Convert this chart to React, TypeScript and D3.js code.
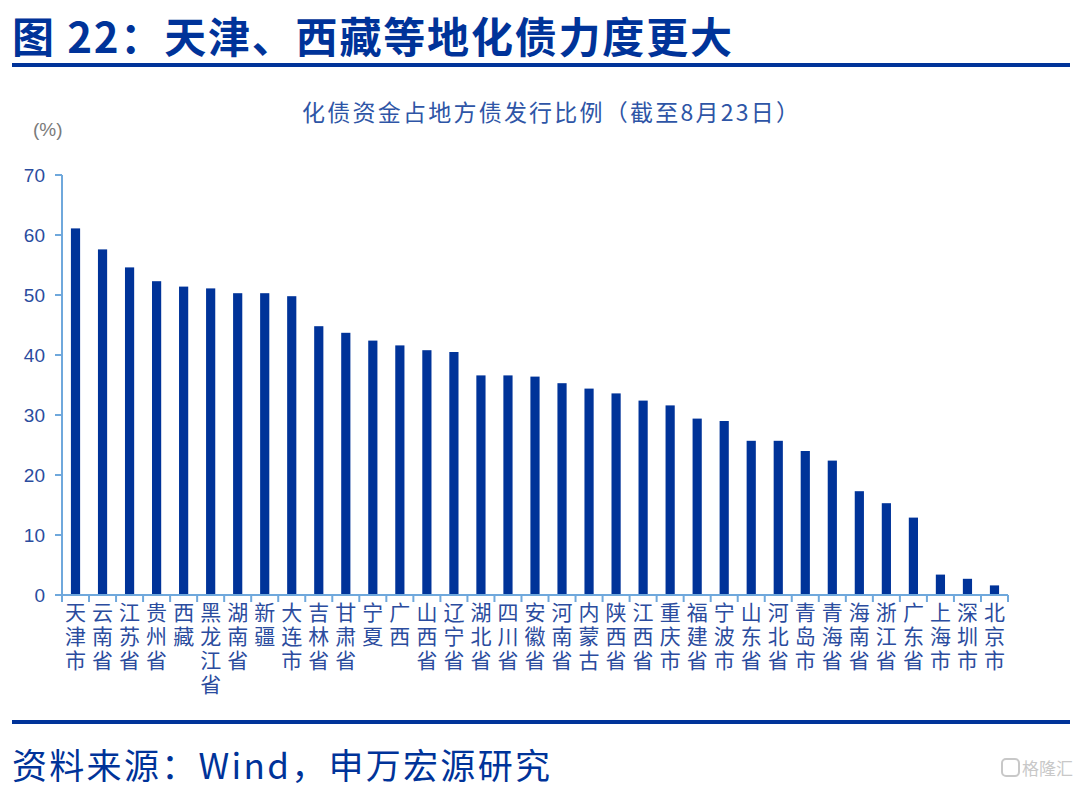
import React from "react";
import * as d3 from "d3";

const categories = [
  "天津市", "云南省", "江苏省", "贵州省", "西藏", "黑龙江省", "湖南省", "新疆", "大连市",
  "吉林省", "甘肃省", "宁夏", "广西", "山西省", "辽宁省", "湖北省", "四川省", "安徽省",
  "河南省", "内蒙古", "陕西省", "江西省", "重庆市", "福建省", "宁波市", "山东省", "河北省",
  "青岛市", "青海省", "海南省", "浙江省", "广东省", "上海市", "深圳市", "北京市",
];
const values = [
  61.1, 57.6, 54.6, 52.3, 51.4, 51.1, 50.3, 50.3, 49.8,
  44.8, 43.7, 42.4, 41.6, 40.8, 40.5, 36.6, 36.6, 36.4,
  35.3, 34.4, 33.6, 32.4, 31.6, 29.4, 29.0, 25.7, 25.7,
  24.0, 22.4, 17.3, 15.3, 12.9, 3.4, 2.7, 1.6,
];
const yTicks = [0, 10, 20, 30, 40, 50, 60, 70];
const titleText = "图 22：天津、西藏等地化债力度更大";
const subtitleText = "化债资金占地方债发行比例（截至8月23日）";
const unitText = "(%)";
const sourceText = "资料来源：Wind，申万宏源研究";
const watermarkText = "格隆汇";

const W = 1076;
const H = 790;
const DARK = "#003399";
const AXIS = "#6fa8dc";
const LABEL = "#2b4c9e";
const FONT = "'Noto Sans CJK SC', 'Noto Sans', sans-serif";
const LATIN = "Arial, 'Liberation Sans', 'Noto Sans CJK SC', sans-serif";

export default function App() {
  const x = d3.scaleBand<string>().domain(categories).range([62, 1008]).paddingInner(0).paddingOuter(0);
  const y = d3.scaleLinear().domain([0, 70]).range([595, 175]);
  const bw = x.bandwidth();
  const barW = bw * 0.34;
  const boundaries = d3.range(categories.length + 1).map((i) => 62 + i * bw);

  return (
    <svg
      width={W}
      height={H}
      style={{ position: "absolute", left: 0, top: 0, background: "#fff" }}
      xmlns="http://www.w3.org/2000/svg"
    >
      <rect x={0} y={0} width={W} height={H} fill="#fff" />
      {/* Title */}
      <text
        x={12}
        y={53}
        fontFamily={FONT}
        fontWeight={700}
        fontSize={42}
        fill={DARK}
        textLength={720}
        lengthAdjust="spacing"
      >
        {titleText}
      </text>
      <rect x={12} y={63} width={1058} height={4} fill={DARK} />

      {/* Subtitle */}
      <text
        x={302}
        y={121}
        fontFamily={FONT}
        fontSize={23}
        fill="#2e55a6"
        textLength={497}
        lengthAdjust="spacing"
      >
        {subtitleText}
      </text>

      {/* Unit */}
      <text x={33} y={136} fontFamily={LATIN} fontSize={19} fill="#7a7a7a">
        {unitText}
      </text>

      {/* Y axis */}
      <line x1={62} x2={62} y1={y(70)} y2={y(0)} stroke={AXIS} strokeWidth={2} />
      {yTicks.map((t) => (
        <g key={t}>
          <line x1={55} x2={62} y1={y(t)} y2={y(t)} stroke={AXIS} strokeWidth={2} />
          <text
            x={45}
            y={y(t)}
            dy="0.35em"
            textAnchor="end"
            fontFamily={LATIN}
            fontSize={19}
            fill={LABEL}
          >
            {t}
          </text>
        </g>
      ))}

      {/* Bars */}
      {categories.map((c, i) => {
        const cx = (x(c) as number) + bw / 2;
        return (
          <rect
            key={c}
            x={cx - barW / 2}
            y={y(values[i])}
            width={barW}
            height={y(0) - y(values[i])}
            fill={DARK}
          />
        );
      })}

      {/* X axis */}
      <line x1={55} x2={1008} y1={y(0)} y2={y(0)} stroke={AXIS} strokeWidth={2} />
      {boundaries.map((bx, i) => (
        <line key={i} x1={bx} x2={bx} y1={y(0)} y2={y(0) + 7} stroke={AXIS} strokeWidth={2} />
      ))}
      {categories.map((c) => {
        const cx = (x(c) as number) + bw / 2;
        return (
          <text
            key={c}
            x={cx}
            y={602}
            fontFamily={FONT}
            fontSize={21}
            fill={LABEL}
            writingMode="vertical-rl"
            letterSpacing={3}
            style={{ textOrientation: "upright", writingMode: "vertical-rl" } as React.CSSProperties}
          >
            {c}
          </text>
        );
      })}

      {/* Bottom rule */}
      <rect x={12} y={720} width={1058} height={4} fill={DARK} />

      {/* Source */}
      <text
        x={12}
        y={779}
        fontFamily={FONT}
        fontSize={35}
        fill={DARK}
        textLength={538}
        lengthAdjust="spacing"
      >
        {sourceText}
      </text>

      {/* Watermark */}
      <rect x={1002} y={759} width={17} height={17} rx={4} fill="none" stroke="#c8c8c8" strokeWidth={2} />
      <text x={1022} y={775} fontFamily={FONT} fontSize={17} fill="#c8c8c8">
        {watermarkText}
      </text>
    </svg>
  );
}
